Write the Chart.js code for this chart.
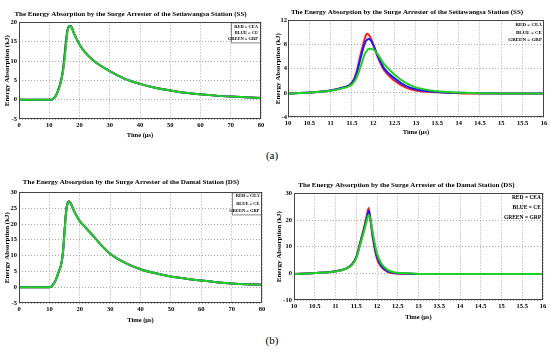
<!DOCTYPE html>
<html>
<head>
<meta charset="utf-8">
<script src="https://cdn.jsdelivr.net/npm/chart.js@4.4.1/dist/chart.umd.min.js"></script>
<style>
  body { margin: 0; width: 550px; height: 350px; background: #fff; position: relative; overflow: hidden; }
  .panel { position: absolute; }
  .tag { position: absolute; font-family: "Liberation Serif", serif; font-size: 11px; color: #000; transform: translate(-50%, -50%); }
</style>
</head>
<body>
<div class="panel" style="left:0;top:0;width:268px;height:145px"><canvas id="ssFull"></canvas></div>
<div class="panel" style="left:270px;top:0;width:280px;height:145px"><canvas id="ssZoom"></canvas></div>
<div class="panel" style="left:0;top:170px;width:268px;height:160px"><canvas id="dsFull"></canvas></div>
<div class="panel" style="left:270px;top:170px;width:280px;height:160px"><canvas id="dsZoom"></canvas></div>
<div class="tag" style="left:272px;top:155px">(a)</div>
<div class="tag" style="left:272px;top:340px">(b)</div>
<script>
// series order: CEA (red), CE (blue), GRP (green)
const seriesNames = ['CEA', 'CE', 'GRP'];
const legendLines = ['RED = CEA', 'BLUE = CE', 'GREEN = GRP'];
const seriesColors = ['#ff1a1a', '#1a1aff', '#1ed31e'];

// Setiawangsa station, 0-80 us
const ssFullTime = [0, 10, 10.5, 11, 12, 13, 14, 14.5, 15, 15.5, 16, 16.5, 17, 17.5, 18, 19, 20, 22, 25, 30, 35, 40, 45, 50, 55, 60, 65, 70, 75, 80];
const ssFullCEA = [0, 0, 0, 0.1, 0.8, 2.6, 5.3, 7.6, 11, 15, 18, 19, 19.1, 18.6, 17.5, 15.8, 14.3, 12.1, 9.9, 7.4, 5.4, 4.1, 3.1, 2.4, 1.8, 1.4, 1.05, 0.8, 0.6, 0.45];
const ssFullCE = [0, 0, 0, 0.1, 0.75, 2.5, 5.2, 7.4, 10.6, 14.6, 17.8, 18.9, 19.05, 18.6, 17.5, 15.8, 14.3, 12.1, 9.9, 7.4, 5.4, 4.1, 3.1, 2.4, 1.8, 1.4, 1.05, 0.8, 0.6, 0.45];
const ssFullGRP = [0, 0, 0, 0.1, 0.7, 2.4, 5, 7, 10, 14, 17.5, 18.8, 19, 18.6, 17.5, 15.8, 14.3, 12.1, 9.9, 7.4, 5.4, 4.1, 3.1, 2.4, 1.8, 1.4, 1.05, 0.8, 0.6, 0.45];

// Setiawangsa station, 10-16 us
const ssZoomTime = [10, 10.5, 11, 11.25, 11.5, 11.6, 11.7, 11.8, 11.85, 11.9, 12, 12.1, 12.25, 12.5, 12.75, 13, 13.5, 14, 15, 16];
const ssZoomCEA = [-0.1, 0.05, 0.4, 0.8, 1.7, 3.3, 6.3, 9.0, 9.8, 9.6, 8.0, 6.0, 3.8, 2.0, 0.9, 0.4, 0.1, -0.05, -0.1, -0.1];
const ssZoomCE = [-0.1, 0.05, 0.4, 0.8, 1.6, 3.0, 5.7, 8.2, 8.8, 8.9, 7.9, 6.2, 4.1, 2.4, 1.2, 0.6, 0.15, 0, -0.1, -0.1];
const ssZoomGRP = [-0.1, 0.05, 0.35, 0.7, 1.4, 2.4, 4.3, 6.4, 7.0, 7.3, 7.2, 6.4, 4.8, 3.0, 1.7, 0.9, 0.25, 0.05, -0.1, -0.1];

// Damai station, 0-80 us
const dsFullTime = [0, 10, 10.5, 11, 12, 13, 14, 14.5, 15, 15.5, 16, 16.5, 17, 17.5, 18, 19, 20, 22, 25, 27, 30, 33, 36, 40, 45, 50, 55, 60, 65, 70, 75, 80];
const dsFullCEA = [0, 0, 0.1, 0.6, 2.1, 4.7, 7.8, 11.5, 18, 24, 26.7, 27.2, 26.6, 25.6, 24.4, 22.5, 20.9, 18.8, 15.6, 13.4, 10.6, 8.7, 7.2, 5.7, 4.4, 3.4, 2.7, 2.1, 1.6, 1.2, 0.95, 0.8];
const dsFullCE = [0, 0, 0.1, 0.55, 2.05, 4.65, 7.7, 11.2, 17.8, 23.8, 26.6, 27.15, 26.6, 25.6, 24.4, 22.5, 20.9, 18.8, 15.6, 13.4, 10.6, 8.7, 7.2, 5.7, 4.4, 3.4, 2.7, 2.1, 1.6, 1.2, 0.95, 0.8];
const dsFullGRP = [0, 0, 0.1, 0.5, 2, 4.6, 7.6, 11, 17.5, 23.5, 26.5, 27.1, 26.6, 25.6, 24.4, 22.5, 20.9, 18.8, 15.6, 13.4, 10.6, 8.7, 7.2, 5.7, 4.4, 3.4, 2.7, 2.1, 1.6, 1.2, 0.95, 0.8];

// Damai station, 10-16 us
const dsZoomTime = [10, 10.5, 11, 11.25, 11.4, 11.5, 11.6, 11.7, 11.75, 11.8, 11.85, 11.9, 12, 12.1, 12.25, 12.5, 12.75, 13, 14, 16];
const dsZoomCEA = [-0.2, 0.1, 0.8, 1.8, 3.5, 6.2, 12, 18, 21.5, 24.5, 19, 13, 5.5, 2.5, 0.6, -0.1, -0.2, -0.2, -0.2, -0.2];
const dsZoomCE = [-0.2, 0.1, 0.8, 1.8, 3.4, 6.0, 11.5, 17.3, 20.5, 23.5, 19.5, 14, 6.3, 3.0, 0.9, 0, -0.1, -0.2, -0.2, -0.2];
const dsZoomGRP = [-0.2, 0.1, 0.7, 1.7, 3.2, 5.7, 11, 16.5, 19.5, 22, 19.5, 15, 7.5, 3.8, 1.4, 0.2, 0, -0.2, -0.2, -0.2];

const yTitle = 'Energy Absorption (kJ)';
const xTitle = 'Time (µs)';

Chart.defaults.font.family = '"Liberation Serif", "Times New Roman", serif';
Chart.defaults.color = '#000';

// plot frame plus the little colour key in the corner
const framePlugin = {
  id: 'frame',
  afterDraw(chart, args, opts) {
    const { ctx, chartArea: a } = chart;
    ctx.save();
    if (opts.box) {
      ctx.fillStyle = '#fff';
      ctx.fillRect(a.right - opts.box[0], a.top, opts.box[0], opts.box[1]);
      ctx.strokeStyle = '#888';
      ctx.lineWidth = 1;
      ctx.strokeRect(a.right - opts.box[0] + 0.5, a.top + 0.5, opts.box[0] - 1, opts.box[1]);
    }
    ctx.font = `bold ${opts.size}px "Liberation Serif"`;
    ctx.fillStyle = '#000';
    ctx.textAlign = 'right';
    ctx.textBaseline = 'middle';
    legendLines.forEach((t, i) => ctx.fillText(t, a.right - opts.inset, a.top + opts.first + i * opts.gap));
    ctx.strokeStyle = '#444';
    ctx.lineWidth = 1;
    ctx.strokeRect(Math.round(a.left) + 0.5, Math.round(a.top) + 0.5, Math.round(a.width) - 1, Math.round(a.height) - 1);
    ctx.restore();
  },
};

const plain = (v) => String(v);

function build(id, time, values, o) {
  return new Chart(document.getElementById(id), {
    type: 'line',
    data: {
      datasets: values.map((v, i) => ({
        label: seriesNames[i],
        data: time.map((t, j) => ({ x: t, y: v[j] })),
        borderColor: seriesColors[i],
        borderWidth: 2,
        pointRadius: 0,
        cubicInterpolationMode: 'monotone',
        fill: false,
        // green last on top, red underneath
        order: values.length - 1 - i,
      })),
    },
    options: {
      responsive: true,
      maintainAspectRatio: false,
      animation: false,
      events: [],
      layout: { padding: { left: 0, right: o.padRight, top: 0, bottom: 0 } },
      plugins: {
        legend: { display: false },
        tooltip: { enabled: false },
        title: {
          display: true,
          text: o.title,
          font: { size: 7, weight: 'bold' },
          padding: { top: o.titleTop, bottom: o.titleBottom },
        },
        frame: o.key,
      },
      scales: {
        x: {
          type: 'linear',
          min: o.x[0],
          max: o.x[1],
          ticks: { stepSize: o.x[2], autoSkip: false, maxRotation: 0, padding: o.xTickPad, font: { size: 6.5, weight: 'bold' }, callback: plain },
          grid: { color: '#a8a8a8', drawTicks: false, tickLength: 0 },
          border: { display: false, dash: [1, 2] },
          title: { display: true, text: xTitle, font: { size: 6.5, weight: 'bold' }, padding: { top: 0, bottom: o.xTitlePad } },
          afterFit: (s) => { s.height = o.xh; },
        },
        y: {
          min: o.y[0],
          max: o.y[1],
          ticks: { stepSize: o.y[2], padding: o.yTickPad, font: { size: 6.5, weight: 'bold' }, callback: plain },
          grid: { color: '#a8a8a8', drawTicks: false, tickLength: 0 },
          border: { display: false, dash: [1, 2] },
          title: { display: true, text: yTitle, font: { size: 7, weight: 'bold' }, padding: { top: o.yTitlePad, bottom: 0 } },
          afterFit: (s) => { s.width = o.yw; },
        },
      },
    },
    plugins: [framePlugin],
  });
}

build('ssFull', ssFullTime, [ssFullCEA, ssFullCE, ssFullGRP], {
  title: 'The Energy Absorption by the Surge Arrester of the Setiawangsa Station (SS)',
  x: [0, 80, 10], y: [-5, 20, 5],
  padRight: 7, titleTop: 9.5, titleBottom: 4.5, xh: 26, yw: 19,
  xTickPad: 2.5, xTitlePad: 5.5, yTickPad: 2, yTitlePad: 2.8,
  key: { size: 4.5, inset: 3, first: 4, gap: 6, box: [30, 20] },
});

build('ssZoom', ssZoomTime, [ssZoomCEA, ssZoomCE, ssZoomGRP], {
  title: 'The Energy Absorption by the Surge Arrester of the Setiawangsa Station (SS)',
  x: [10, 16, 0.5], y: [-4, 12, 4],
  padRight: 6, titleTop: 8.2, titleBottom: 3.8, xh: 28, yw: 18,
  xTickPad: 2.8, xTitlePad: 8.5, yTickPad: 1, yTitlePad: 3.8,
  key: { size: 5, inset: 2, first: 4.5, gap: 7.5 },
});

build('dsFull', dsFullTime, [dsFullCEA, dsFullCE, dsFullGRP], {
  title: 'The Energy Absorption by the Surge Arrester of the Damai Station (DS)',
  x: [0, 80, 10], y: [-5, 30, 5],
  padRight: 6, titleTop: 7.8, titleBottom: 6.2, xh: 27, yw: 19,
  xTickPad: 2.5, xTitlePad: 5.5, yTickPad: 2, yTitlePad: 2.8,
  key: { size: 4.5, inset: 2.5, first: 3.5, gap: 7.5, box: [30, 22] },
});

build('dsZoom', dsZoomTime, [dsZoomCEA, dsZoomCE, dsZoomGRP], {
  title: 'The Energy Absorption by the Surge Arrester of the Damai Station (DS)',
  x: [10, 16, 0.5], y: [-10, 30, 10],
  padRight: 7, titleTop: 10.5, titleBottom: 4.5, xh: 30, yw: 24,
  xTickPad: 2.5, xTitlePad: 8.5, yTickPad: 2, yTitlePad: 4.8,
  key: { size: 5.5, inset: 2, first: 4, gap: 10 },
});
</script>
</body>
</html>
